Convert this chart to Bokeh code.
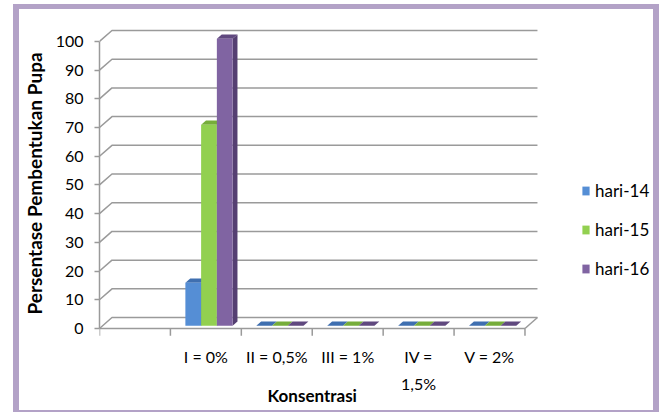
import math
from bokeh.plotting import figure
from bokeh.models import Range1d, FixedTicker, LinearAxis, Legend, LegendItem
from bokeh.embed import file_html
from bokeh.resources import INLINE

# ---------------- data ----------------
categories = ["", "I = 0%", "II = 0,5%", "III = 1%", "IV =\n1,5%", "V = 2%"]
series_names = ["hari-14", "hari-15", "hari-16"]
hari_14 = [math.nan, 15, 0, 0, 0, 0]
hari_15 = [math.nan, 70, 0, 0, 0, 0]
hari_16 = [math.nan, 100, 0, 0, 0, 0]
y_ticks = [0, 10, 20, 30, 40, 50, 60, 70, 80, 90, 100]
x_title = "Konsentrasi"
y_title = "Persentase Pembentukan Pupa"

# ---------------- style ----------------
front_colors = ["#558ED5", "#92D050", "#8064A2"]
top_colors = ["#3F6FB0", "#76AD3A", "#60497F"]
side_colors = ["#3A64A0", "#6C9E33", "#553F72"]
grid_color = "#9A9A9A"
FONT = "Lato"
DX, DY = 0.176, 3.8      # depth of the 3D box (data units)
F0, F1 = 0.25, 0.64      # depth fraction occupied by bars
W = 0.222                # bar width (category units)

n_cat = len(categories)
y_max = y_ticks[-1]

p = figure(width=646, height=408, output_backend="svg", toolbar_location=None,
           x_range=Range1d(0, 7.77), y_range=Range1d(-3.5, 104.5),
           x_axis_location=None, y_axis_location=None,
           min_border_left=78, min_border_right=15, min_border_top=19, min_border_bottom=79,
           styles={"border-style": "solid", "border-color": "#B3A2C7",
                   "border-width": "5px 6px 2px 6px",
                   "margin-left": "13px", "position": "relative", "top": "4px"})
p.outline_line_color = None
for g in p.grid:
    g.visible = False

# back wall gridlines (front axis -> back wall -> right)
gx, gy = [], []
for v in y_ticks:
    gx.append([0, DX, n_cat + DX])
    gy.append([v, v + DY, v + DY])
p.multi_line(gx, gy, line_color=grid_color, line_width=1.5)

# floor front edge, right edge and x ticks at category boundaries
p.multi_line([[0, n_cat], [n_cat, n_cat + DX]], [[0, 0], [0, DY]], line_color=grid_color, line_width=1.5)
p.segment(x0=list(range(n_cat + 1)), y0=[0] * (n_cat + 1), x1=list(range(n_cat + 1)),
          y1=[-2.5] * (n_cat + 1), line_color=grid_color, line_width=1.5)

# 3D bars
legend_items = []
all_series = [hari_14, hari_15, hari_16]
for s, vals in enumerate(all_series):
    lefts, rights, bottoms, tops = [], [], [], []
    txs, tys, sxs, sys_ = [], [], [], []
    for i, v in enumerate(vals):
        if v is None or (isinstance(v, float) and math.isnan(v)):
            continue
        L = i + 0.5 - 1.5 * W + s * W + F0 * DX
        R = L + W
        b = F0 * DY
        ddx, ddy = (F1 - F0) * DX, (F1 - F0) * DY
        lefts.append(L); rights.append(R); bottoms.append(b); tops.append(v + b)
        txs.append([L, R, R + ddx, L + ddx]); tys.append([v + b, v + b, v + b + ddy, v + b + ddy])
        sxs.append([R, R, R + ddx, R + ddx]); sys_.append([b, v + b, v + b + ddy, b + ddy])
    p.patches(sxs, sys_, fill_color=side_colors[s], line_color=None)
    p.patches(txs, tys, fill_color=top_colors[s], line_color=None)
    r = p.quad(left=lefts, right=rights, bottom=bottoms, top=tops,
               fill_color=front_colors[s], line_color=None)
    legend_items.append(LegendItem(label=series_names[s], renderers=[r]))

# y axis
yaxis = LinearAxis(ticker=FixedTicker(ticks=y_ticks), bounds=(0, y_max),
                   axis_label=y_title,
                   axis_label_text_font=FONT, axis_label_text_font_style="bold",
                   axis_label_text_font_size="19px", axis_label_text_color="#000000",
                   axis_label_standoff=7,
                   major_label_text_font=FONT, major_label_text_font_size="16px",
                   major_label_text_color="#000000", major_label_standoff=11,
                   axis_line_color=grid_color, axis_line_width=1.5,
                   major_tick_line_color=grid_color, major_tick_line_width=1.5,
                   major_tick_out=5, major_tick_in=0,
                   minor_tick_line_color=None)
p.add_layout(yaxis, "left")

# x axis (category labels at category centres)
centers = [i + 0.5 for i in range(n_cat)]
xaxis = LinearAxis(ticker=FixedTicker(ticks=centers), bounds=(0, n_cat),
                   major_label_overrides={c: lab for c, lab in zip(centers, categories)},
                   major_label_text_font=FONT, major_label_text_font_size="16px",
                   major_label_text_color="#000000", major_label_standoff=8,
                   major_label_text_line_height=1.45,
                   axis_line_color=None, major_tick_line_color=None,
                   major_tick_out=0, major_tick_in=0, minor_tick_line_color=None)
p.add_layout(xaxis, "below")

# x axis title, centred under the category axis (x = n_cat / 2)
xtitle_axis = LinearAxis(ticker=FixedTicker(ticks=[n_cat / 2]), bounds=(0, n_cat),
                         major_label_overrides={n_cat / 2: x_title},
                         major_label_text_font=FONT, major_label_text_font_style="bold",
                         major_label_text_font_size="17px", major_label_text_color="#000000",
                         major_label_standoff=-12,
                         axis_line_color=None, major_tick_line_color=None,
                         major_tick_out=0, major_tick_in=0, minor_tick_line_color=None)
p.add_layout(xtitle_axis, "below")

legend = Legend(items=legend_items, location=(482, 59), padding=0, margin=0,
                spacing=18, label_height=20, glyph_height=11, glyph_width=9,
                label_standoff=5, label_text_font=FONT, label_text_font_size="17px",
                label_text_color="#000000", border_line_color=None,
                background_fill_alpha=0)
p.add_layout(legend)

open("out.html", "w").write(file_html(p, INLINE))
